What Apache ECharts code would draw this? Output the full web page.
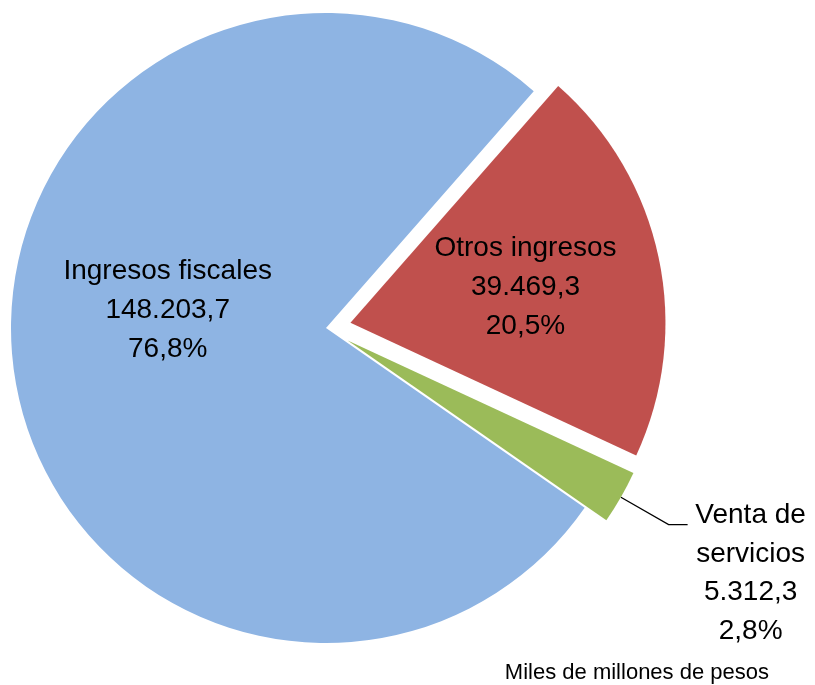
<!DOCTYPE html>
<html>
<head>
<meta charset="utf-8">
<script src="https://cdn.jsdelivr.net/npm/echarts@6/dist/echarts.min.js"></script>
<style>
  html, body { margin: 0; padding: 0; background: #ffffff; }
  #chart { width: 815px; height: 685px; }
</style>
</head>
<body>
<div id="chart"></div>
<script>
// Ingresos por fuente (miles de millones de pesos)
const categories = ['Ingresos fiscales', 'Otros ingresos', 'Venta de servicios'];
const values = [148203.7, 39469.3, 5312.3];
const sliceColors = ['#8EB4E3', '#C0504D', '#9BBB59'];
const exploded = [false, true, true];
const unitNote = 'Miles de millones de pesos';

// Small nudges for the inside labels, in pixels
const labelNudges = [[1, -37], [18, -2], [0, 0]];

const total = values.reduce((a, b) => a + b, 0);

// Spanish number format: 148.203,7
function fmtNumber(v) {
  const parts = v.toFixed(1).split('.');
  const intPart = parts[0].replace(/\B(?=(\d{3})+(?!\d))/g, '.');
  return intPart + ',' + parts[1];
}
function fmtPercent(v) {
  return (v / total * 100).toFixed(1).replace('.', ',') + '%';
}

const FONT = 'Liberation Sans';

const data = categories.map((name, i) => {
  const item = {
    name: name,
    value: values[i],
    selected: exploded[i],
    itemStyle: { color: sliceColors[i] }
  };
  if (i === 2) {
    item.label = {
      position: 'outside',
      formatter: p => ['{c|Venta de}', '{c|servicios}', '{c|' + fmtNumber(p.value) + '}', '{c|' + fmtPercent(p.value) + '}'].join('\n'),
      padding: [97, 0, 0, 0],
      rich: {
        c: { width: 116, align: 'center', fontSize: 28, lineHeight: 38.5, fontFamily: FONT, color: '#000000' }
      }
    };
    item.labelLine = {
      show: true,
      length: 55,
      length2: 19,
      lineStyle: { color: '#000000', width: 1.3 }
    };
  } else {
    item.label = { position: 'inside' };
    item.labelLine = { show: false };
  }
  return item;
});

const chart = echarts.init(document.getElementById('chart'), null, { renderer: 'canvas' });
chart.setOption({
  animation: false,
  backgroundColor: '#ffffff',
  title: {
    text: unitNote,
    right: 41,
    bottom: -4,
    textStyle: { fontFamily: FONT, fontSize: 22, fontWeight: 'normal', color: '#000000' }
  },
  series: [{
    type: 'pie',
    center: [326, 328],
    radius: 315,
    startAngle: 325.2,
    clockwise: true,
    selectedMode: 'multiple',
    selectedOffset: 25,
    avoidLabelOverlap: false,
    emphasis: { disabled: true },
    itemStyle: { borderWidth: 0 },
    label: {
      show: true,
      fontFamily: FONT,
      fontSize: 28,
      lineHeight: 39,
      color: '#000000',
      align: 'center',
      formatter: p => p.name + '\n' + fmtNumber(p.value) + '\n' + fmtPercent(p.value)
    },
    labelLayout: function (params) {
      const n = labelNudges[params.dataIndex];
      if (params.dataIndex === 2) return {};
      return { dx: n[0], dy: n[1] };
    },
    data: data
  }]
});
</script>
</body>
</html>
